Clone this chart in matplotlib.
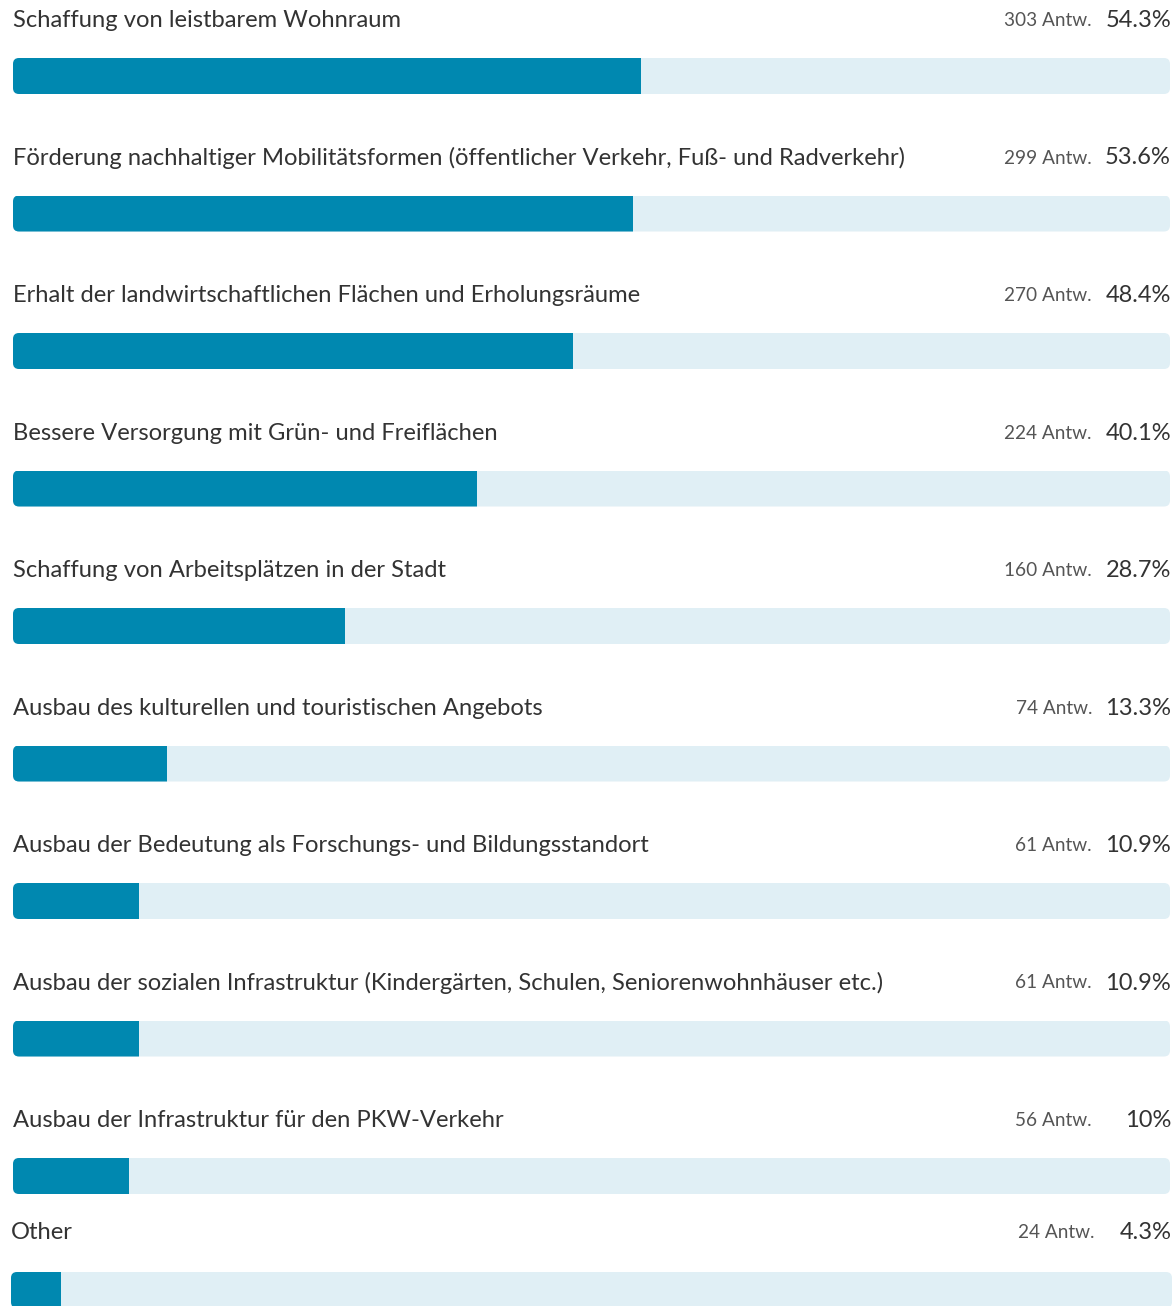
import matplotlib.pyplot as plt
from matplotlib.patches import FancyBboxPatch

# answer options, counts and shares
labels = [
    "Schaffung von leistbarem Wohnraum",
    "Förderung nachhaltiger Mobilitätsformen (öffentlicher Verkehr, Fuß- und Radverkehr)",
    "Erhalt der landwirtschaftlichen Flächen und Erholungsräume",
    "Bessere Versorgung mit Grün- und Freiflächen",
    "Schaffung von Arbeitsplätzen in der Stadt",
    "Ausbau des kulturellen und touristischen Angebots",
    "Ausbau der Bedeutung als Forschungs- und Bildungsstandort",
    "Ausbau der sozialen Infrastruktur (Kindergärten, Schulen, Seniorenwohnhäuser etc.)",
    "Ausbau der Infrastruktur für den PKW-Verkehr",
    "Other",
]
counts = [303, 299, 270, 224, 160, 74, 61, 61, 56, 24]
shares = [54.3, 53.6, 48.4, 40.1, 28.7, 13.3, 10.9, 10.9, 10, 4.3]

FILL = "#0088b0"
TRACK = "#e0eff5"
W, H = 1176, 1306

plt.rcParams['font.family'] = ['Lato', 'DejaVu Sans']
fig = plt.figure(figsize=(W / 100, H / 100), dpi=100)
fig.patch.set_facecolor("white")

bar_h = 36
for i, (lab, n, p) in enumerate(zip(labels, counts, shares)):
    # last row sits a little tighter and shifted left
    if i < 9:
        top = 58 + 137.5 * i
        x0, x1 = 13, 1170
        lab_y = top - 37.5
        cnt_x, pct_x = 1092, 1171
    else:
        top = 1272
        x0, x1 = 11, 1172
        lab_y = top - 39.5
        cnt_x, pct_x = 1094, 1172

    ax = fig.add_axes([x0 / W, 1 - (top + bar_h) / H, (x1 - x0) / W, bar_h / H])
    ax.set_xlim(0, 100)
    ax.set_ylim(0, 1)
    ax.axis("off")

    # rounded track, then the filled bar clipped to it
    px_x = 100 / (x1 - x0)
    px_y = 1 / bar_h
    track = FancyBboxPatch((0, 0), 100, 1,
                           boxstyle="round,pad=0,rounding_size=%f" % (6 * px_x),
                           mutation_aspect=px_y / px_x,
                           facecolor=TRACK, edgecolor="none")
    ax.add_patch(track)
    bars = ax.barh([0.5], [p], height=1, left=0, color=FILL)
    for b in bars:
        b.set_clip_path(track)

    fig.text(x0 / W, 1 - lab_y / H, lab, ha="left", va="center",
             fontsize=17.15, color="#333333")
    fig.text(cnt_x / W, 1 - lab_y / H, "%d Antw." % n, ha="right", va="center",
             fontsize=13.7, color="#555555")
    pct = ("%g" % p) + "%"
    fig.text(pct_x / W, 1 - lab_y / H, pct, ha="right", va="center",
             fontsize=17, color="#333333")

fig.savefig("out.png", dpi=100)
